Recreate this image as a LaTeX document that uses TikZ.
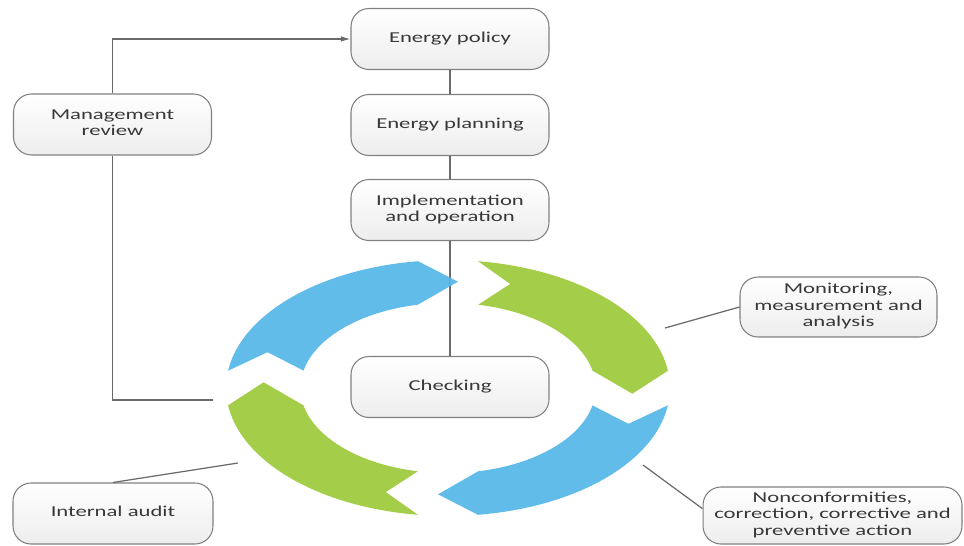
\documentclass[tikz,border=0pt]{standalone}
\usepackage{fontspec}
\setmainfont{Carlito}
\usetikzlibrary{arrows.meta}
\definecolor{ringblue}{HTML}{55B6E8}
\definecolor{ringgreen}{HTML}{9CC93B}
\definecolor{linegray}{HTML}{6A6A6A}
\definecolor{txtgray}{HTML}{383838}
\newcommand\boxtxt[1]{\scalebox{1.5}[1]{\begin{tabular}{@{}c@{}}#1\end{tabular}}}
\tikzset{
  stagebox/.style={draw=black!50, line width=0.6pt, rounded corners=0.36cm,
    top color=white, bottom color=black!7, text=txtgray,
    minimum width=3.96cm, minimum height=1.22cm, inner sep=0pt,
    font=\fontsize{8.6}{9.3}\selectfont},
  link/.style={draw=linegray, line width=0.7pt},
}
\begin{document}
\begin{tikzpicture}[x=0.02cm,y=-0.02cm]
\useasboundingbox (0,0) rectangle (964,545);
% boxes
\node[stagebox] (policy) at (450,39) {\boxtxt{Energy policy}};
\node[stagebox] (planning) at (450,125) {\boxtxt{Energy planning}};
\node[stagebox] (impl) at (450,210) {\boxtxt{Implementation\\and operation}};
\node[stagebox] (check) at (450,387) {\boxtxt{Checking}};
\node[stagebox] (mgmt) at (112.5,124.5) {\boxtxt{Management\\review}};
\node[stagebox, minimum width=3.94cm, minimum height=1.2cm] (monitor) at (838.5,307) {\boxtxt{Monitoring,\\measurement and\\analysis}};
\node[stagebox, minimum width=5.18cm, minimum height=1.14cm] (nonconf) at (832.5,515.5) {\boxtxt{Nonconformities,\\correction, corrective and\\preventive action}};
\node[stagebox, minimum width=4.0cm, minimum height=1.22cm] (audit) at (113,513.5) {\boxtxt{Internal audit}};
% connectors
\coordinate (mgend) at (213,400);
\coordinate (monend) at (665,328);
\coordinate (ncend) at (643,465);
\coordinate (auend) at (238,463);
\draw[link] (policy) -- (planning);
\draw[link] (planning) -- (impl);
\draw[link] (impl) -- (check);
\draw[link, -{Latex[length=5.5pt,width=3.2pt]}] (mgmt.north) |- (policy.west);
\draw[link] (mgmt.south) |- (mgend);
\draw[link] (monitor.west) -- (monend);
\draw[link] (nonconf.177) -- (ncend);
\draw[link] (audit.north) -- (auend);
% ring of arrows
\coordinate (C) at (448,388);
\begin{scope}[shift={(C)}, x=4.44cm, y=2.56cm]
\foreach \k/\col in {0/ringblue,1/ringgreen,2/ringblue,3/ringgreen}{
  \pgfmathsetmacro\o{-90*\k}
  \fill[\col, fill opacity=0.92] ({cos(172.24+\o)},{sin(172.24+\o)})
    -- plot[domain=172.24:97.76, samples=40] ({cos(\x+\o)},{sin(\x+\o)})
    -- ({0.832*cos(86.9+\o)},{0.832*sin(86.9+\o)})
    -- plot[domain=101.8:168.2, samples=40] ({0.665*cos(\x+\o)},{0.665*sin(\x+\o)})
    -- ({0.86*cos(161+\o)},{0.86*sin(161+\o)}) -- cycle;
}
\end{scope}
\end{tikzpicture}
\end{document}
